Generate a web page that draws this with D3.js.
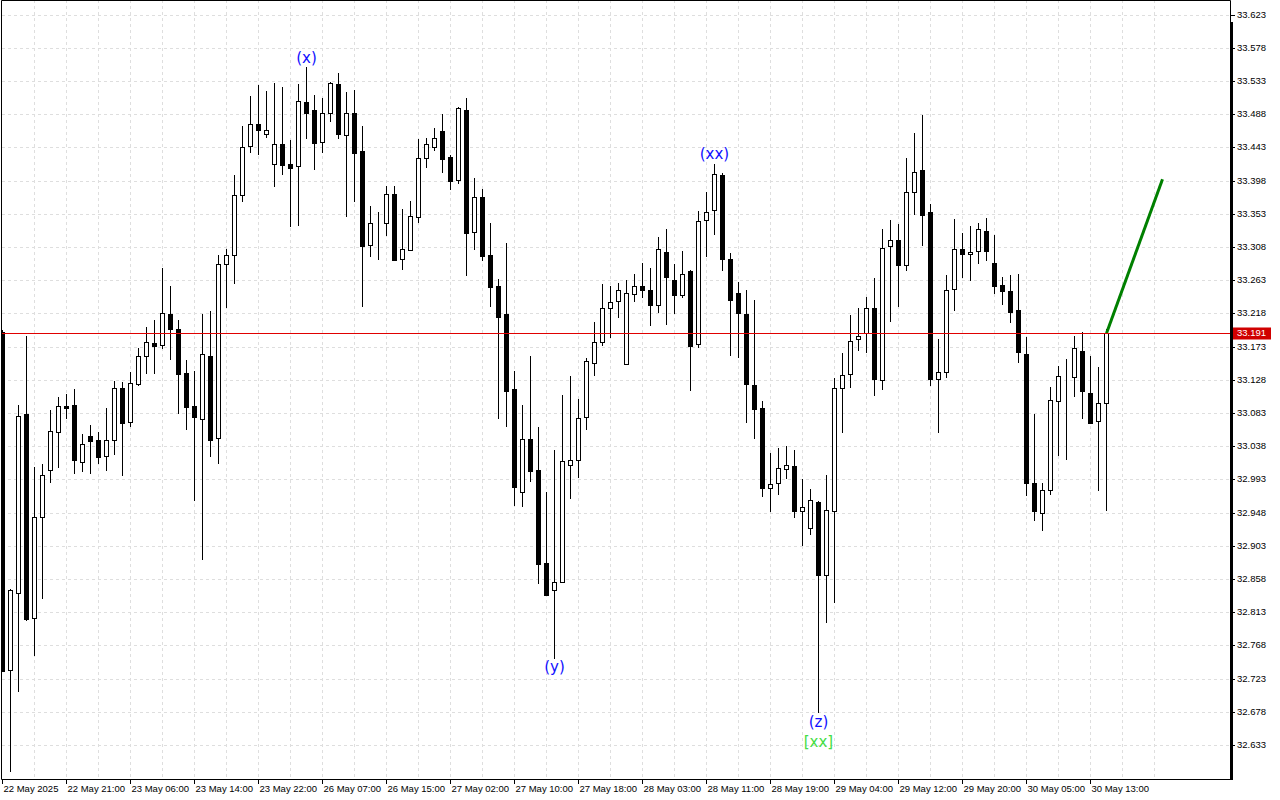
<!DOCTYPE html>
<html><head><meta charset="utf-8">
<script src="https://cdn.jsdelivr.net/npm/d3@7"></script>
<style>html,body{margin:0;padding:0;background:#fff;overflow:hidden}</style>
</head><body><svg id="chart" width="1280" height="800"></svg>
<script>
const openP=[33.193,32.735,32.839,33.082,32.805,32.942,33.006,33.057,33.093,33.094,33.017,33.052,33.046,33.025,33.047,33.117,33.071,33.122,33.160,33.178,33.175,33.217,33.197,33.137,33.093,33.075,33.160,33.049,33.285,33.297,33.379,33.445,33.475,33.461,33.421,33.448,33.421,33.418,33.505,33.494,33.450,33.490,33.529,33.460,33.490,33.438,33.311,33.341,33.341,33.380,33.292,33.304,33.349,33.429,33.444,33.465,33.430,33.399,33.494,33.328,33.376,33.297,33.255,33.217,33.116,32.976,33.048,33.006,32.880,32.843,32.854,33.013,33.019,33.078,33.151,33.179,33.225,33.235,33.149,33.244,33.255,33.250,33.229,33.301,33.263,33.243,33.276,33.177,33.345,33.358,33.406,33.292,33.246,33.217,33.121,33.090,32.981,32.988,33.007,33.011,32.950,32.927,32.962,32.864,32.950,33.117,33.136,33.183,33.191,33.225,33.128,33.309,33.318,33.284,33.382,33.412,33.356,33.129,33.139,33.251,33.305,33.299,33.303,33.330,33.286,33.256,33.248,33.223,33.163,32.988,32.948,32.979,33.099,33.135,33.132,33.167,33.110,33.072,33.097];
const highP=[33.195,32.844,33.094,33.187,33.010,33.014,33.087,33.105,33.109,33.116,33.055,33.067,33.057,33.090,33.126,33.125,33.139,33.171,33.200,33.209,33.280,33.255,33.209,33.155,33.140,33.217,33.221,33.297,33.305,33.406,33.472,33.513,33.528,33.520,33.530,33.525,33.453,33.529,33.552,33.514,33.510,33.532,33.544,33.518,33.521,33.472,33.364,33.356,33.391,33.391,33.360,33.370,33.454,33.456,33.469,33.488,33.433,33.498,33.510,33.402,33.387,33.341,33.265,33.314,33.140,33.094,33.160,33.064,32.976,33.033,33.107,33.133,33.102,33.158,33.206,33.258,33.255,33.259,33.263,33.272,33.286,33.280,33.322,33.333,33.285,33.303,33.277,33.357,33.383,33.421,33.408,33.300,33.261,33.250,33.236,33.099,33.029,33.036,33.038,33.033,32.994,32.980,32.964,32.999,33.130,33.164,33.216,33.225,33.240,33.266,33.333,33.345,33.339,33.429,33.463,33.487,33.366,33.183,33.270,33.346,33.327,33.337,33.341,33.347,33.324,33.267,33.270,33.272,33.186,33.082,32.988,33.118,33.147,33.156,33.187,33.193,33.160,33.145,33.197];
const lowP=[32.732,32.596,32.705,32.801,32.754,32.831,32.988,33.009,33.075,33.000,33.003,33.000,33.014,33.004,33.026,32.998,33.064,33.120,33.136,33.136,33.170,33.155,33.082,33.060,32.964,32.884,33.023,33.014,33.225,33.258,33.369,33.435,33.433,33.456,33.389,33.406,33.335,33.337,33.454,33.412,33.435,33.478,33.454,33.349,33.369,33.227,33.295,33.291,33.323,33.289,33.277,33.303,33.341,33.415,33.438,33.408,33.385,33.393,33.269,33.304,33.289,33.227,33.075,33.064,32.957,32.956,32.990,32.851,32.835,32.750,32.853,32.967,32.995,33.060,33.133,33.174,33.185,33.212,33.149,33.234,33.239,33.201,33.219,33.202,33.217,33.239,33.113,33.171,33.295,33.324,33.276,33.160,33.158,33.070,33.048,32.969,32.949,32.972,32.994,32.941,32.903,32.918,32.676,32.798,32.825,33.056,33.117,33.167,33.164,33.106,33.114,33.206,33.227,33.276,33.352,33.309,33.120,33.056,33.130,33.221,33.266,33.262,33.285,33.289,33.244,33.229,33.205,33.151,32.971,32.937,32.923,32.972,33.025,33.019,33.105,33.075,33.068,32.977,32.950];
const closeP=[32.733,32.843,33.079,32.804,32.942,32.999,33.059,33.093,33.090,33.019,33.041,33.045,33.023,33.047,33.117,33.070,33.124,33.160,33.179,33.174,33.219,33.197,33.136,33.091,33.078,33.163,33.047,33.285,33.297,33.379,33.444,33.475,33.467,33.467,33.448,33.419,33.415,33.506,33.490,33.449,33.490,33.530,33.461,33.490,33.435,33.309,33.341,33.340,33.380,33.291,33.305,33.350,33.429,33.448,33.456,33.427,33.398,33.497,33.327,33.376,33.296,33.254,33.213,33.113,32.983,33.048,33.004,32.878,32.836,32.854,33.018,33.019,33.076,33.154,33.179,33.225,33.234,33.250,33.246,33.255,33.250,33.229,33.305,33.267,33.243,33.272,33.174,33.343,33.356,33.407,33.292,33.236,33.219,33.122,33.089,32.981,32.987,33.009,33.013,32.950,32.956,32.965,32.864,32.952,33.117,33.135,33.180,33.187,33.225,33.129,33.307,33.318,33.284,33.383,33.410,33.352,33.129,33.139,33.250,33.305,33.299,33.301,33.333,33.303,33.255,33.248,33.220,33.166,32.988,32.950,32.979,33.101,33.133,33.134,33.171,33.113,33.070,33.097,33.191];
const timeLabels=["22 May 2025","22 May 21:00","23 May 06:00","23 May 14:00","23 May 22:00","26 May 07:00","26 May 15:00","27 May 02:00","27 May 10:00","27 May 18:00","28 May 03:00","28 May 11:00","28 May 19:00","29 May 04:00","29 May 12:00","29 May 20:00","30 May 05:00","30 May 13:00"];
const timeLabelIdx=[0,8,16,24,32,40,48,56,64,72,80,88,96,104,112,120,128,136];
const priceTicks=[33.623,33.578,33.533,33.488,33.443,33.398,33.353,33.308,33.263,33.218,33.173,33.128,33.083,33.038,32.993,32.948,32.903,32.858,32.813,32.768,32.723,32.678,32.633];
const bidPrice=33.191;
const forecastIdx=[138,145];
const forecastPrice=[33.191,33.400];
const waveText=["(x)","(xx)","(y)","(z)","[xx]"];
const waveIdx=[38,89,69,102,102];
const waveSide=["high","high","low","low","low2"];

const svg=d3.select("#chart");
const L=2,R=1230,T=0,B=779;
const y=d3.scaleLinear().domain([32.5869,33.6429]).range([B,T]);
const x=d3.scaleLinear().domain([0,1]).range([2.5,10.5]);
const font="'Liberation Sans', Arial, sans-serif";

svg.append("rect").attr("width",1280).attr("height",800).attr("fill","#fff");
svg.append("clipPath").attr("id","pc").append("rect").attr("x",L).attr("y",T).attr("width",R-L).attr("height",B-T);
const g=svg.append("g").attr("clip-path","url(#pc)");

// grid
const gridIdx=d3.range(4,146,4);
g.selectAll(".vg").data(gridIdx).join("line").attr("class","vg")
  .attr("x1",d=>x(d)).attr("x2",d=>x(d)).attr("y1",T).attr("y2",B)
  .attr("stroke","#dedede").attr("stroke-dasharray","3,3");
g.selectAll(".hg").data(priceTicks).join("line").attr("class","hg")
  .attr("x1",L).attr("x2",R).attr("y1",d=>Math.round(y(d))+0.5).attr("y2",d=>Math.round(y(d))+0.5)
  .attr("stroke","#dedede").attr("stroke-dasharray","3,3");

// candles
const idx=d3.range(openP.length);
g.selectAll(".wick").data(idx).join("line").attr("class","wick")
  .attr("x1",d=>x(d)).attr("x2",d=>x(d))
  .attr("y1",d=>Math.round(y(highP[d]))).attr("y2",d=>Math.round(y(lowP[d])))
  .attr("stroke","#000").attr("stroke-width",1);
g.selectAll(".body").data(idx).join("rect").attr("class","body")
  .attr("x",d=>x(d)-2).attr("width",4)
  .attr("y",d=>Math.round(y(Math.max(openP[d],closeP[d])))+0.5)
  .attr("height",d=>Math.max(0,Math.round(y(Math.min(openP[d],closeP[d])))-Math.round(y(Math.max(openP[d],closeP[d])))))
  .attr("fill",d=>closeP[d]>openP[d]?"#fff":"#000")
  .attr("stroke","#000").attr("stroke-width",1);

// forecast
g.append("line").attr("x1",x(forecastIdx[0])).attr("y1",y(forecastPrice[0]))
  .attr("x2",x(forecastIdx[1])).attr("y2",y(forecastPrice[1]))
  .attr("stroke","#008000").attr("stroke-width",3);

// wave labels
waveText.forEach((t,i)=>{
  const k=waveIdx[i];
  let yy, col="#1010ff";
  if(waveSide[i]==="high") yy=y(highP[k])-9;
  else if(waveSide[i]==="low") yy=y(lowP[k])+9;
  else {yy=y(lowP[k])+29; col="#44dd44";}
  g.append("text").attr("x",x(k)).attr("y",yy).attr("text-anchor","middle")
    .attr("dominant-baseline","middle").attr("font-family","'DejaVu Sans', sans-serif")
    .attr("font-size",15).attr("fill",col).text(t);
});
g.append("text").attr("x",12).attr("y",B+7).attr("text-anchor","middle")
  .attr("dominant-baseline","middle").attr("font-family","'DejaVu Sans', sans-serif")
  .attr("font-size",15).attr("fill","#1010ff").text("(w)");

// bid line (on top)
const byLine=Math.round(y(bidPrice));
svg.append("rect").attr("x",L).attr("y",byLine).attr("width",R-L).attr("height",1)
  .attr("fill","#e00000").attr("shape-rendering","crispEdges");

// frame
svg.append("path").attr("d",`M${L-0.5},${T+0.5}H${R+0.5}V${B+0.5}H${L-0.5}Z`).attr("fill","none").attr("stroke","#000");
svg.append("line").attr("x1",R+1.5).attr("x2",R+1.5).attr("y1",22).attr("y2",B+1).attr("stroke","#000").attr("stroke-width",3);

// right axis
const ra=svg.append("g");
priceTicks.forEach(p=>{
  const yy=Math.round(y(p))+0.5;
  ra.append("line").attr("x1",R+1).attr("x2",R+5).attr("y1",yy).attr("y2",yy).attr("stroke","#000");
  ra.append("text").attr("x",R+7).attr("y",yy).attr("dominant-baseline","middle")
    .attr("font-family",font).attr("font-size",9.5).attr("fill","#000").text(p.toFixed(3));
});
const by=byLine+0.5;
ra.append("rect").attr("x",R+3).attr("y",by-6).attr("width",38).attr("height",12).attr("fill","#d00000");
ra.append("text").attr("x",R+7).attr("y",by).attr("dominant-baseline","middle")
  .attr("font-family",font).attr("font-size",9.5).attr("fill","#fff").text(bidPrice.toFixed(3));

// bottom axis
const ba=svg.append("g");
timeLabels.forEach((t,i)=>{
  const xx=Math.round(x(timeLabelIdx[i]))-0.5;
  ba.append("line").attr("x1",xx).attr("x2",xx).attr("y1",B).attr("y2",B+5).attr("stroke","#000");
  ba.append("text").attr("x",xx+1).attr("y",B+10).attr("dominant-baseline","middle")
    .attr("font-family",font).attr("font-size",9.5).attr("fill","#000").text(t);
});
</script></body></html>
